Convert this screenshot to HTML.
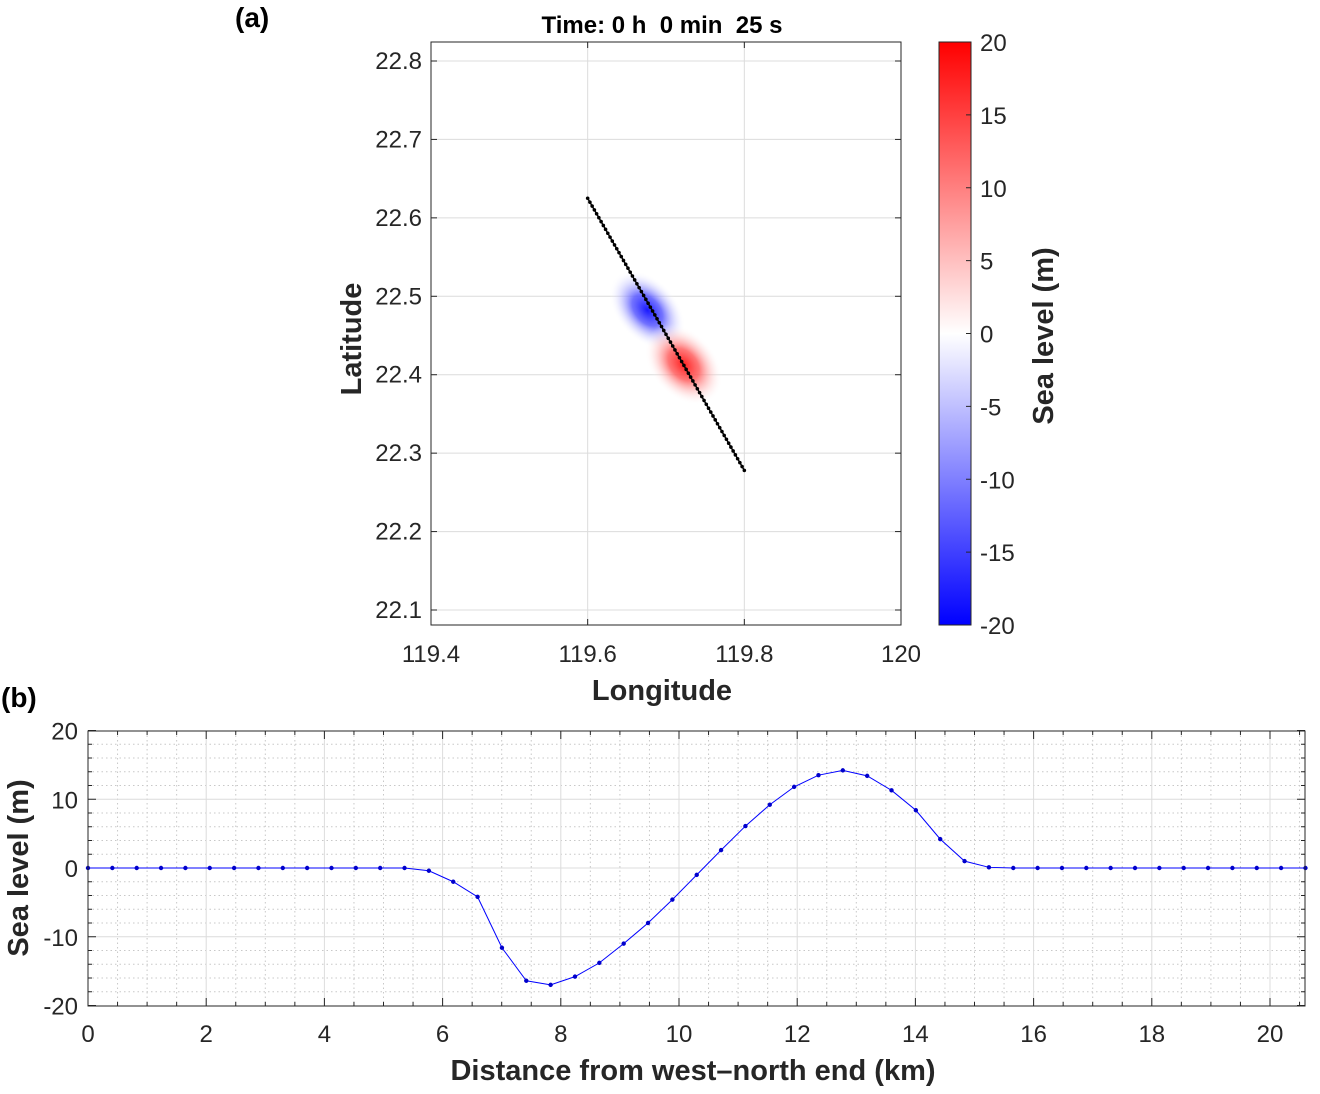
<!DOCTYPE html>
<html><head><meta charset="utf-8"><style>
body{margin:0;background:#fff;}
svg{font-family:"Liberation Sans",Arial,sans-serif;}
</style></head><body>
<svg width="1320" height="1089" viewBox="0 0 1320 1089" xmlns="http://www.w3.org/2000/svg" id="root">
<defs>
<linearGradient id="cbar" x1="0" y1="1" x2="0" y2="0">
<stop offset="0" stop-color="#0000ff"/><stop offset="0.5" stop-color="#ffffff"/><stop offset="1" stop-color="#ff0000"/>
</linearGradient>
<radialGradient id="gb"><stop offset="0" stop-color="#1a1aff"/><stop offset="0.4" stop-color="#5a5aff" stop-opacity="0.85"/><stop offset="1" stop-color="#ffffff" stop-opacity="0"/></radialGradient>
<radialGradient id="gr"><stop offset="0" stop-color="#ff2020"/><stop offset="0.4" stop-color="#ff6060" stop-opacity="0.85"/><stop offset="1" stop-color="#ffffff" stop-opacity="0"/></radialGradient>
</defs>
<g id="topPanel"></g>
<g id="botPanel"></g>
</svg>
<script>
// ---- data ----
const lonTicks=[119.4,119.6,119.8,120];
const latTicks=[22.1,22.2,22.3,22.4,22.5,22.6,22.7,22.8];
const transectStart=[119.6,22.625];
const transectEnd=[119.8,22.278];
const cbarTicks=[20,15,10,5,0,-5,-10,-15,-20];
const distTicks=[0,2,4,6,8,10,12,14,16,18,20];
const levelTicks=[20,10,0,-10,-20];
const seaLevel=[0,0,0,0,0,0,0,0,0,0,0,0,0,0,-0.4,-2,-4.2,-11.6,-16.4,-17,-15.8,-13.8,-11,-8,-4.6,-1,2.6,6.1,9.2,11.8,13.5,14.2,13.4,11.3,8.4,4.2,1.0,0.1,0,0,0,0,0,0,0,0,0,0,0,0,0];
const distMax=20.6;

const NS="http://www.w3.org/2000/svg";
function mk(p,t,a,txt){const e=document.createElementNS(NS,t);for(const k in a)e.setAttribute(k,a[k]);if(txt!==undefined)e.textContent=txt;p.appendChild(e);return e;}
const topG=document.getElementById('topPanel'),botG=document.getElementById('botPanel');

// ---- top map ----
const AX={l:431,r:901,t:42,b:625};
const lx=v=>431+(v-119.4)/0.6*470;
const ly=v=>61+(22.8-v)/0.1*78.43;
let bg=mk(topG,'rect',{x:AX.l,y:AX.t,width:AX.r-AX.l,height:AX.b-AX.t,fill:'#fff'});


lonTicks.forEach(v=>{const x=lx(v);
 if(v>119.4&&v<120){let g=mk(topG,'line',{x1:x,x2:x,y1:AX.t,y2:AX.b,stroke:'#dcdcdc','stroke-width':1});
 
 }
 mk(topG,'line',{x1:x,x2:x,y1:AX.b,y2:AX.b-6,stroke:'#262626'});mk(topG,'line',{x1:x,x2:x,y1:AX.t,y2:AX.t+6,stroke:'#262626'});
 let t=mk(topG,'text',{x:x,y:662,'text-anchor':'middle','font-size':24,fill:'#262626'},String(v));
 
 });
latTicks.forEach(v=>{const y=ly(v);
 let g=mk(topG,'line',{x1:AX.l,x2:AX.r,y1:y,y2:y,stroke:'#dcdcdc','stroke-width':1});
 
 
 mk(topG,'line',{x1:AX.l,x2:AX.l+6,y1:y,y2:y,stroke:'#262626'});mk(topG,'line',{x1:AX.r,x2:AX.r-6,y1:y,y2:y,stroke:'#262626'});
 let t=mk(topG,'text',{x:AX.l-9,y:y+8,'text-anchor':'end','font-size':24,fill:'#262626'},v.toFixed(1));
 
 });
const bx=(f)=>lx(transectStart[0]+(transectEnd[0]-transectStart[0])*f);
const by=(f)=>ly(transectStart[1]+(transectEnd[1]-transectStart[1])*f);
let b1=mk(topG,'ellipse',{cx:bx(0.4)-3,cy:by(0.4)+3,rx:46,ry:30,fill:'url(#gb)',transform:`rotate(48 ${bx(0.4)-3} ${by(0.4)+3})`});


let b2=mk(topG,'ellipse',{cx:bx(0.6)+2,cy:by(0.6)+3,rx:46,ry:32,fill:'url(#gr)',transform:`rotate(48 ${bx(0.6)+2} ${by(0.6)+3})`});


let tl=mk(topG,'line',{x1:lx(transectStart[0]),y1:ly(transectStart[1]),x2:lx(transectEnd[0]),y2:ly(transectEnd[1]),stroke:'#000','stroke-width':1.5});


for(let i=0;i<=70;i++){const f=i/70;let c=mk(topG,'circle',{cx:bx(f),cy:by(f),r:1.8,fill:'#000'});
 
 }
mk(topG,'rect',{x:AX.l,y:AX.t,width:AX.r-AX.l,height:AX.b-AX.t,fill:'none',stroke:'#262626','stroke-width':1});
let tt=mk(topG,'text',{x:662,y:33,'text-anchor':'middle','font-size':24,'font-weight':'bold',fill:'#000'},'Time: 0 h\u00a0 0 min\u00a0 25 s');


let xl=mk(topG,'text',{x:662,y:700,'text-anchor':'middle','font-size':29,'font-weight':'bold',fill:'#262626'},'Longitude');


let yl=mk(topG,'text',{x:0,y:0,'text-anchor':'middle','font-size':29,'font-weight':'bold',fill:'#262626',transform:'translate(361,339) rotate(-90)'},'Latitude');


let pa=mk(topG,'text',{x:235,y:27,'font-size':28,'font-weight':'bold',fill:'#000'},'(a)');


let cb=mk(topG,'rect',{x:939,y:42,width:32,height:583,fill:'url(#cbar)',stroke:'#262626','stroke-width':1});


cbarTicks.forEach(v=>{const y=42+(20-v)/40*583;
 mk(topG,'line',{x1:966,x2:971,y1:y,y2:y,stroke:'#262626'});
 let t=mk(topG,'text',{x:980,y:y+9,'font-size':24,fill:'#262626'},String(v));
 
 });
let cl=mk(topG,'text',{x:0,y:0,'text-anchor':'middle','font-size':29,'font-weight':'bold',fill:'#262626',transform:'translate(1053,336) rotate(-90)'},'Sea level (m)');



// ---- bottom profile ----
const BX={l:88,r:1305,t:731,b:1006};
const px=v=>88+v/20*1182;
const py=v=>868-v*6.875;
for(let v=0.5;v<distMax;v+=0.5){if(Math.abs(v/2-Math.round(v/2))<1e-6)continue;const x=px(v);
 mk(botG,'line',{x1:x,x2:x,y1:BX.t,y2:BX.b,stroke:'#c8c8c8','stroke-dasharray':'1.5,3'});
 mk(botG,'line',{x1:x,x2:x,y1:BX.b,y2:BX.b-4,stroke:'#262626'});mk(botG,'line',{x1:x,x2:x,y1:BX.t,y2:BX.t+4,stroke:'#262626'});}
for(let v=-18;v<20;v+=2){if(v%10===0)continue;const y=py(v);
 mk(botG,'line',{x1:BX.l,x2:BX.r,y1:y,y2:y,stroke:'#c8c8c8','stroke-dasharray':'1.5,3'});
 mk(botG,'line',{x1:BX.l,x2:BX.l+4,y1:y,y2:y,stroke:'#262626'});mk(botG,'line',{x1:BX.r,x2:BX.r-4,y1:y,y2:y,stroke:'#262626'});}
distTicks.forEach(v=>{const x=px(v);
 if(v>0){let g=mk(botG,'line',{x1:x,x2:x,y1:BX.t,y2:BX.b,stroke:'#dcdcdc'});
 
 }
 mk(botG,'line',{x1:x,x2:x,y1:BX.b,y2:BX.b-8,stroke:'#262626'});mk(botG,'line',{x1:x,x2:x,y1:BX.t,y2:BX.t+8,stroke:'#262626'});
 let t=mk(botG,'text',{x:x,y:1042,'text-anchor':'middle','font-size':24,fill:'#262626'},String(v));
 
 });
levelTicks.forEach(v=>{const y=py(v);
 if(v>-20&&v<20){let g=mk(botG,'line',{x1:BX.l,x2:BX.r,y1:y,y2:y,stroke:'#dcdcdc'});
 
 }
 mk(botG,'line',{x1:BX.l,x2:BX.l+8,y1:y,y2:y,stroke:'#262626'});mk(botG,'line',{x1:BX.r,x2:BX.r-8,y1:y,y2:y,stroke:'#262626'});
 let t=mk(botG,'text',{x:78,y:y+9,'text-anchor':'end','font-size':24,fill:'#262626'},String(v));
 
 });
const step=distMax/(seaLevel.length-1);
const pts=seaLevel.map((v,i)=>[px(i*step),py(v)]);
let pl=mk(botG,'polyline',{points:pts.map(p=>p.join(',')).join(' '),fill:'none',stroke:'#0000ff','stroke-width':1});


pts.forEach(p=>{let c=mk(botG,'circle',{cx:p[0],cy:p[1],r:2.2,fill:'#0000cc'});
 
 });
mk(botG,'rect',{x:BX.l,y:BX.t,width:BX.r-BX.l,height:BX.b-BX.t,fill:'none',stroke:'#262626'});
let bxl=mk(botG,'text',{x:693,y:1080,'text-anchor':'middle','font-size':29,'font-weight':'bold',fill:'#262626'},'Distance from west\u2013north end (km)');


let byl=mk(botG,'text',{x:0,y:0,'text-anchor':'middle','font-size':29,'font-weight':'bold',fill:'#262626',transform:'translate(28,868) rotate(-90)'},'Sea level (m)');


let pb=mk(botG,'text',{x:1,y:707,'font-size':28,'font-weight':'bold',fill:'#000'},'(b)');


</script>
</body></html>
